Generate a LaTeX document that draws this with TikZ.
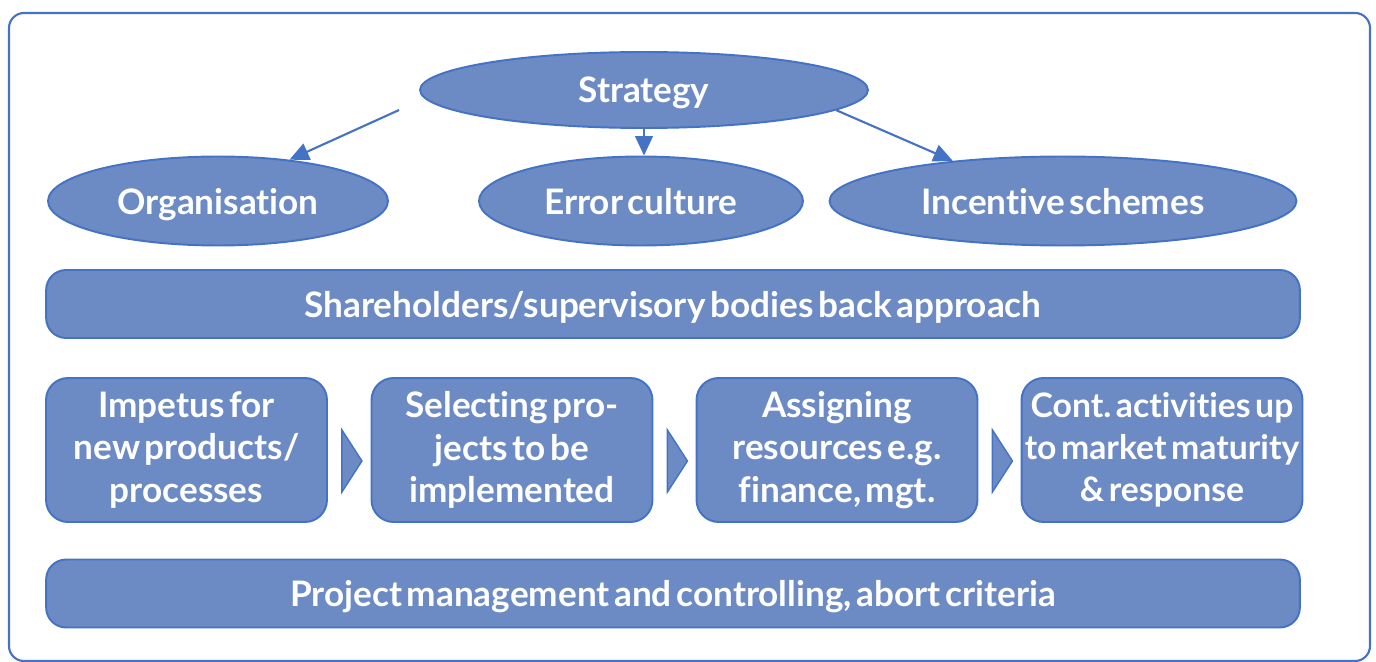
\documentclass[tikz,border=0pt]{standalone}
\usepackage{fontspec}
\setmainfont{Lato}[Ligatures=NoCommon,WordSpace=0.55]
\usetikzlibrary{shapes.geometric,arrows.meta,positioning}
\definecolor{boxblue}{RGB}{108,138,196}
\definecolor{frameblue}{RGB}{68,114,196}
\frenchspacing

\begin{document}
\begin{tikzpicture}[x=0.02cm,y=-0.02cm,% one unit is one pixel of the layout, y runs down
        every node/.style={text=white,font=\bfseries\fontsize{20}{24}\selectfont},
        oval/.style={ellipse,draw=frameblue,fill=boxblue,line width=1.1pt,inner sep=0pt,text depth=0pt},
        band/.style={rectangle,rounded corners=0.4cm,draw=frameblue,fill=boxblue,line width=1.1pt,
                minimum width=25.08cm,minimum height=1.36cm},
        stage/.style={rectangle,rounded corners=0.44cm,draw=frameblue,fill=boxblue,line width=1.1pt,
                minimum width=5.62cm,minimum height=2.88cm,align=center,inner sep=0pt},
        link/.style={draw=frameblue,line width=1.2pt,-{Triangle[length=11pt,width=10pt]}}]
\useasboundingbox (0,0) rectangle (1376,662);
\draw[frameblue,line width=1.2pt,rounded corners=0.3cm] (9,13) rectangle (1370,661); % outer frame

\node[oval,minimum width=8.96cm,minimum height=1.52cm] (strat) at (644,90) {Strategy};
\node[oval,minimum width=6.8cm,minimum height=1.78cm] (org) at (218,201) {Organisation};
\node[oval,minimum width=6.48cm,minimum height=1.78cm] (err) at (641,201) {Error culture};
\node[oval,minimum width=9.34cm,minimum height=1.78cm] (inc) at (1063,201) {Incentive schemes};

\draw[link] ([shift={(-20,20)}]strat.west) -- (org.30);
\draw[link] (strat.south) -- (strat.south |- err.north);
\draw[link] (strat.-6) -- (inc.160);

\node[band,text depth=0pt] (share) at (673,304) {Shareholders/supervisory bodies back approach};

\foreach[count=\xi] \x/\fs/\t in {186.5/20/{Impetus for\\new products/\\processes},%
        512/20/{Selecting pro-\\jects to be\\implemented},%
        837/20/{Assigning\\resources e.g.\\finance, mgt.},%
        1162/19.2/{Cont. activities up\\to market maturity\\\& response}}{ %\xi names the stage, \fs its font size
\node[stage,font=\bfseries\fontsize{\fs}{24}\selectfont] (s\xi) at (\x,450) {\t};
}

\foreach \a/\b in {1/2,2/3,3/4}{ % small chevrons between the stages
\draw[draw=frameblue,fill=boxblue,line width=0.8pt] ([shift={(14,-20)}]s\a.east) -- ([shift={(34,11)}]s\a.east) -- ([shift={(14,42)}]s\a.east) -- cycle;
}

\node[band,text depth=0pt] (ctrl) at (673,593.5) {Project management and controlling, abort criteria};

\end{tikzpicture}
\end{document}
